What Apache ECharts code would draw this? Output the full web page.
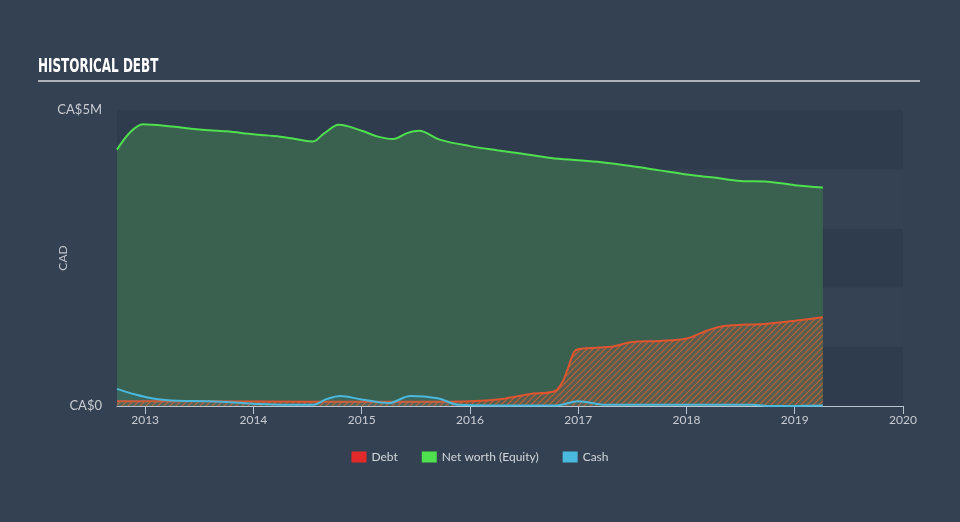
<!DOCTYPE html>
<html><head><meta charset="utf-8">
<script src="https://cdn.jsdelivr.net/npm/echarts@6/dist/echarts.min.js"></script>
<style>html,body{margin:0;padding:0;background:#344152;}#c{width:960px;height:522px;}</style>
</head><body><div id="c"></div>
<script>
// Data (values in CA$ millions, x in decimal years)
const yearTicks = [2013, 2014, 2015, 2016, 2017, 2018, 2019, 2020];
const netWorth = [[2012.74,4.33],[2012.86,4.62],[2012.98,4.76],[2013.25,4.72],[2013.5,4.67],[2013.75,4.64],[2014.0,4.59],[2014.25,4.55],[2014.45,4.49],[2014.55,4.47],[2014.65,4.6],[2014.79,4.75],[2015.0,4.65],[2015.15,4.55],[2015.29,4.51],[2015.42,4.61],[2015.53,4.65],[2015.72,4.5],[2016.0,4.39],[2016.25,4.32],[2016.45,4.27],[2016.75,4.19],[2017.0,4.15],[2017.25,4.11],[2017.5,4.05],[2017.75,3.98],[2018.0,3.91],[2018.25,3.86],[2018.5,3.8],[2018.75,3.79],[2019.0,3.73],[2019.26,3.69]];
const debt = [[2012.74,0.08],[2013.5,0.08],[2014.5,0.07],[2015.5,0.07],[2016.0,0.08],[2016.3,0.12],[2016.55,0.2],[2016.78,0.25],[2016.85,0.39],[2016.9,0.61],[2016.97,0.93],[2017.05,0.97],[2017.3,1.0],[2017.5,1.08],[2017.75,1.1],[2018.0,1.14],[2018.2,1.28],[2018.35,1.35],[2018.75,1.39],[2019.0,1.44],[2019.26,1.5]];
const cash = [[2012.74,0.29],[2012.9,0.2],[2013.1,0.12],[2013.3,0.09],[2013.6,0.08],[2014.0,0.04],[2014.3,0.02],[2014.55,0.02],[2014.68,0.12],[2014.8,0.17],[2015.0,0.11],[2015.25,0.05],[2015.45,0.17],[2015.7,0.13],[2015.9,0.02],[2016.2,0.01],[2016.8,0.01],[2017.0,0.08],[2017.25,0.02],[2018.0,0.02],[2018.6,0.02],[2018.8,0.0],[2019.26,0.01]];
const yTickLabels = {0: 'CA$0', 5: 'CA$5M'};

// hatch pattern for debt area
const pc = document.createElement('canvas');
pc.width = 6; pc.height = 6;
const g = pc.getContext('2d');
g.fillStyle = 'rgba(105,95,80,0.55)';
g.fillRect(0,0,6,6);
g.strokeStyle = 'rgba(220,95,50,0.8)';
g.lineWidth = 1.2;
g.beginPath();
g.moveTo(-1,7); g.lineTo(7,-1);
g.moveTo(-4,4); g.lineTo(4,-4);
g.moveTo(2,10); g.lineTo(10,2);
g.stroke();

const chart = echarts.init(document.getElementById('c'), null, {renderer:'canvas'});
chart.setOption({
  backgroundColor: '#344152',
  animation: false,
  textStyle: {fontFamily: 'Lato, "Noto Sans", sans-serif'},
  graphic: [
    {type:'text', x: 38, y: 58, scaleX: 0.7, style:{text:'HISTORICAL DEBT', font:'bold 19px "DejaVu Sans Condensed", sans-serif', fill:'#ffffff'}},
    {type:'rect', shape:{x:38, y:80, width:882, height:2}, style:{fill:'#aeb3ba'}}
  ],
  legend: {
    bottom: 54, left: 'center', itemWidth: 15, itemHeight: 11, itemGap: 24,
    icon: 'rect',
    textStyle: {color:'#d3d7dd', fontSize: 12},
    data: [
      {name:'Debt', itemStyle:{color:'#e32a2a'}},
      {name:'Net worth (Equity)', itemStyle:{color:'#4ee04e'}},
      {name:'Cash', itemStyle:{color:'#4ab9de'}}
    ]
  },
  grid: {left: 117, right: 57, top: 110, bottom: 116},
  xAxis: {
    type: 'value', min: 2012.74, max: 2020,
    axisLine: {show: true, lineStyle:{color:'#b9c4cf', width: 1}},
    axisTick: {show: true, customValues: yearTicks, length: 8, lineStyle:{color:'#b9c4cf'}},
    axisLabel: {customValues: yearTicks, color:'#c9cdd3', fontSize: 12, margin: 8, formatter: v => String(Math.round(v))},
    splitLine: {show: false}
  },
  yAxis: {
    type: 'value', min: 0, max: 5, interval: 1,
    name: 'CAD', nameLocation: 'middle', nameGap: 48, nameMoveOverlap: false,
    nameTextStyle: {color:'#c0c5cc', fontSize: 12},
    axisLine: {show:false}, axisTick: {show:false},
    axisLabel: {color:'#c9cdd3', fontSize: 13, margin: 15, formatter: v => yTickLabels[v] || ''},
    splitLine: {show:false},
    splitArea: {show:true, areaStyle:{color:['#2f3c4d','#344253']}}
  },
  series: [
    {name:'Net worth (Equity)', type:'line', data: netWorth, smooth: 0.35, symbol:'none',
     lineStyle:{color:'#4ee04e', width: 2}, itemStyle:{color:'#4ee04e'},
     areaStyle:{color:'#3a6150', opacity: 1}, z: 1},
    {name:'Debt', type:'line', data: debt, smooth: 0.35, symbol:'none',
     lineStyle:{color:'#e0552f', width: 2}, itemStyle:{color:'#e32a2a'},
     areaStyle:{color:{image: pc, repeat:'repeat'}, opacity: 1}, z: 2},
    {name:'Cash', type:'line', data: cash, smooth: 0.35, symbol:'none',
     lineStyle:{color:'#4ab9de', width: 2}, itemStyle:{color:'#4ab9de'},
     areaStyle:{color:'rgba(74,185,222,0.12)'}, z: 3}
  ]
});
</script></body></html>
